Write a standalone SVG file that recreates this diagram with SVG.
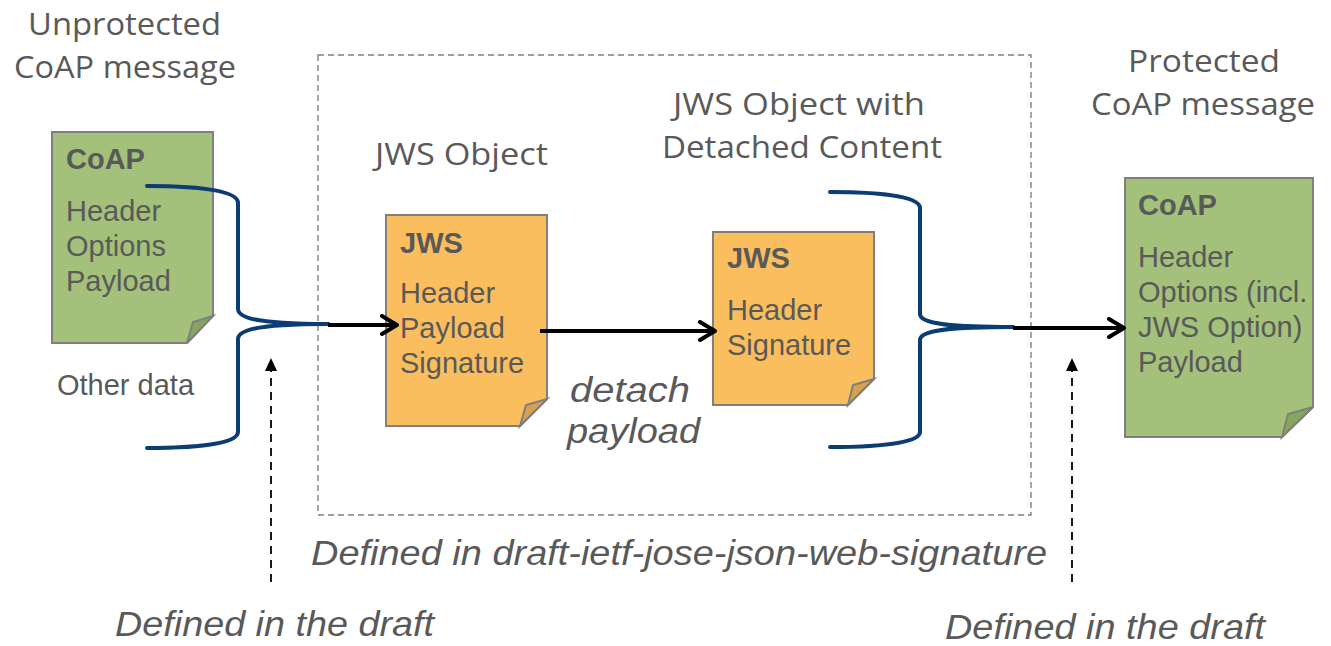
<svg xmlns="http://www.w3.org/2000/svg" width="1331" height="646" viewBox="0 0 1331 646">
<defs>
<style>
.title{font-family:"Open Sans","Noto Sans",sans-serif;font-size:31px;fill:#595959}
.body{font-family:"Liberation Sans",Arial,sans-serif;font-size:29px;fill:#595959}
.bold{font-family:"Liberation Sans",Arial,sans-serif;font-size:29px;font-weight:bold;fill:#595959}
.ital{font-family:"Liberation Sans",Arial,sans-serif;font-style:italic;fill:#595959}
.doc{stroke:#7f7f7f;stroke-width:2}
.green{fill:#a3c17a}
.greenf{fill:#87a55d}
.orange{fill:#fbbe5f}
.orangef{fill:#d9a14f}
.brace{fill:none;stroke:#0b3c73;stroke-width:4;stroke-linecap:round}
.arrow{fill:none;stroke:#000;stroke-width:4}
.dash{fill:none;stroke:#000;stroke-width:1.8;stroke-dasharray:8 6}
</style>
<marker id="chev" markerUnits="userSpaceOnUse" markerWidth="22" markerHeight="24" refX="18" refY="11" orient="auto" viewBox="0 0 22 24">
<path d="M3,2 L18,11 L3,20" fill="none" stroke="#000" stroke-width="4" stroke-linecap="round" stroke-linejoin="round"/>
</marker>
<marker id="tri" markerUnits="userSpaceOnUse" markerWidth="14" markerHeight="14" refX="13" refY="6" orient="auto" viewBox="0 0 14 12">
<path d="M0,0 L13,6 L0,12 Z" fill="#000"/>
</marker>
</defs>
<rect width="1331" height="646" fill="#fff"/>

<rect id="jose-box" x="318" y="55" width="713" height="460" fill="none" stroke="#7f7f7f" stroke-width="1.4" stroke-dasharray="6 4"/>

<g id="labels">
<text class="title" x="28" y="35" textLength="193" lengthAdjust="spacingAndGlyphs">Unprotected</text>
<text class="title" x="14" y="78" textLength="222" lengthAdjust="spacingAndGlyphs">CoAP message</text>
<text class="title" x="375" y="165" textLength="173" lengthAdjust="spacingAndGlyphs">JWS Object</text>
<text class="title" x="673" y="115" textLength="252" lengthAdjust="spacingAndGlyphs">JWS Object with</text>
<text class="title" x="662" y="158" textLength="280" lengthAdjust="spacingAndGlyphs">Detached Content</text>
<text class="title" x="1128" y="72" textLength="152" lengthAdjust="spacingAndGlyphs">Protected</text>
<text class="title" x="1091" y="115" textLength="224" lengthAdjust="spacingAndGlyphs">CoAP message</text>
<text class="body" x="57" y="395">Other data</text>
<text class="ital" x="570" y="402" font-size="35" textLength="120" lengthAdjust="spacingAndGlyphs">detach</text>
<text class="ital" x="567" y="443" font-size="35" textLength="133" lengthAdjust="spacingAndGlyphs">payload</text>
<text class="ital" x="311" y="565" font-size="35" textLength="736" lengthAdjust="spacingAndGlyphs">Defined in draft-ietf-jose-json-web-signature</text>
<text class="ital" x="115" y="636" font-size="35" textLength="319" lengthAdjust="spacingAndGlyphs">Defined in the draft</text>
<text class="ital" x="945" y="639" font-size="35" textLength="320" lengthAdjust="spacingAndGlyphs">Defined in the draft</text>
</g>

<g id="coap-in">
<path class="doc green" d="M52,132 H213 V316 L187,343 H52 Z"/>
<path class="doc greenf" d="M213,316 L193,322 L187,343 Z" stroke-width="1.5"/>
<text class="bold" x="66" y="169">CoAP</text>
<text class="body" x="66" y="221">Header</text>
<text class="body" x="66" y="256">Options</text>
<text class="body" x="66" y="291">Payload</text>
</g>

<g id="jws-object">
<path class="doc orange" d="M386,215 H547 V399 L520,426 H386 Z"/>
<path class="doc orangef" d="M547,399 L526,405 L520,426 Z" stroke-width="1.5"/>
<text class="bold" x="400" y="253">JWS</text>
<text class="body" x="400" y="303">Header</text>
<text class="body" x="400" y="338">Payload</text>
<text class="body" x="400" y="373">Signature</text>
</g>

<g id="jws-detached">
<path class="doc orange" d="M713,232 H874 V379 L848,405 H713 Z"/>
<path class="doc orangef" d="M874,379 L853,385 L848,405 Z" stroke-width="1.5"/>
<text class="bold" x="727" y="268">JWS</text>
<text class="body" x="727" y="320">Header</text>
<text class="body" x="727" y="355">Signature</text>
</g>

<g id="coap-out">
<path class="doc green" d="M1125,178 H1313 V407 L1282,437 H1125 Z"/>
<path class="doc greenf" d="M1313,407 L1288,414 L1282,437 Z" stroke-width="1.5"/>
<text class="bold" x="1138" y="215">CoAP</text>
<text class="body" x="1138" y="267">Header</text>
<text class="body" x="1138" y="302">Options (incl.</text>
<text class="body" x="1138" y="337">JWS Option)</text>
<text class="body" x="1138" y="372">Payload</text>
</g>

<g id="connectors">
<path class="brace" d="M147,186 C195,186 238,190 238,203 L238,309 C238,320 270,324 328,324"/>
<path class="brace" d="M147,448 C195,448 238,444 238,432 L238,339 C238,328 270,324 328,324"/>
<path class="brace" d="M830,192 C878,192 920,196 920,208 L920,314 C920,324 950,327 1013,327"/>
<path class="brace" d="M830,447 C878,447 920,443 920,432 L920,340 C920,330 950,327 1013,327"/>
<line class="arrow" x1="328" y1="325" x2="397" y2="325" marker-end="url(#chev)"/>
<line class="arrow" x1="540" y1="331" x2="715" y2="331" marker-end="url(#chev)"/>
<line class="arrow" x1="1013" y1="328" x2="1124" y2="328" marker-end="url(#chev)"/>
<line class="dash" x1="271" y1="582" x2="271" y2="358" marker-end="url(#tri)"/>
<line class="dash" x1="1072" y1="582" x2="1072" y2="358" marker-end="url(#tri)"/>
</g>
</svg>
